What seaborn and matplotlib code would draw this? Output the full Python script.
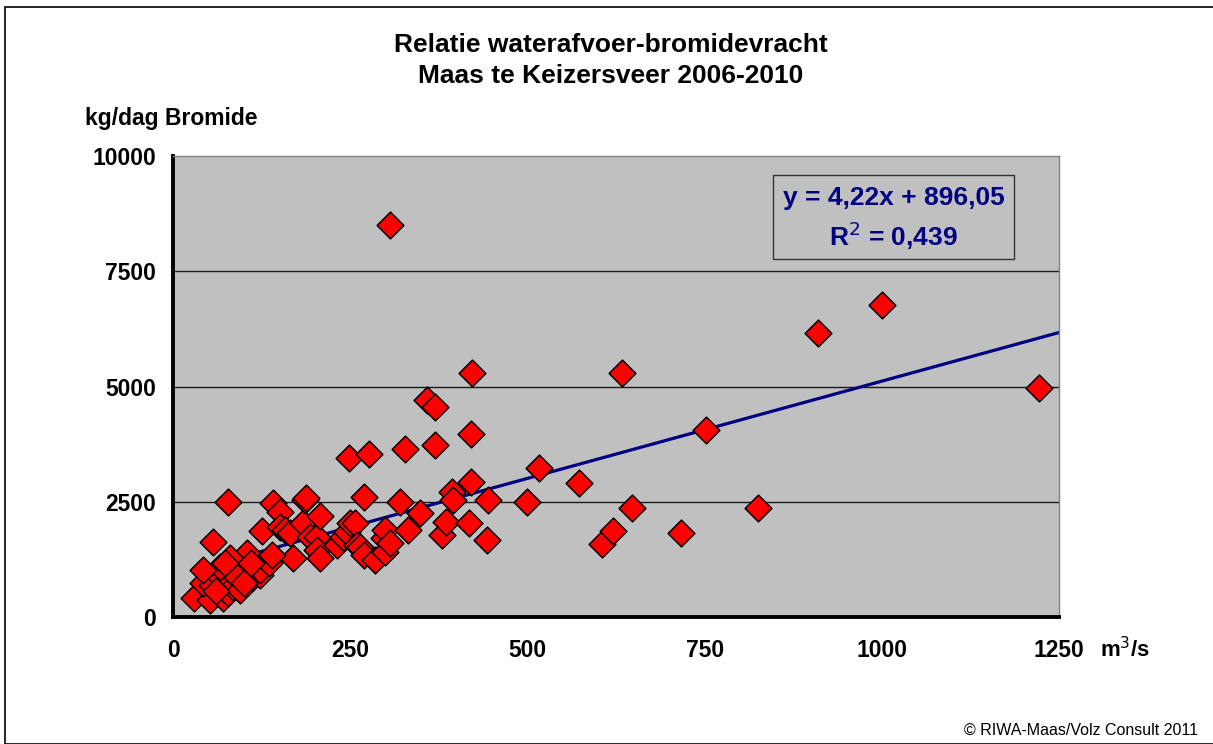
import numpy as np
import pandas as pd
import matplotlib
matplotlib.use("Agg")
import matplotlib.pyplot as plt
from matplotlib.patches import Rectangle
import seaborn as sns

# ---- data ----
afvoer = [30, 52, 43, 55, 66, 66, 71, 78, 85, 90, 95, 104, 113, 80, 73, 43, 123, 123,
          135, 56, 77, 125, 141, 151, 151, 158, 165, 170, 100, 60, 110, 140,
          184, 186, 188, 193, 203, 203, 207, 207, 231, 240, 245, 250, 257, 259, 264,
          270, 270, 285, 297, 299, 299, 306, 320, 332, 349, 379, 385, 393, 395, 417,
          420, 421, 422, 443, 445, 249, 276, 327, 358, 370, 370, 306,
          500, 516, 573, 605, 621, 634, 647, 716, 752, 825, 910, 1000, 1222]
bromide = [405, 370, 730, 695, 875, 1090, 405, 515, 660, 875, 585, 1380, 875, 1275, 1165,
           1020, 910, 1020, 1165, 1635, 2500, 1875, 2480, 2285, 1960, 1890, 1815, 1275,
           740, 560, 1180, 1350,
           2035, 2540, 2575, 1745, 1745, 1455, 2200, 1275, 1560, 1745, 1850, 2035, 2035,
           1560, 1525, 2600, 1345, 1235, 1710, 1890, 1415, 1600, 2500, 1890, 2250, 1780,
           2070, 2720, 2540, 2045, 2935, 3970, 5290, 1670, 2540, 3455, 3530, 3640, 4710,
           4565, 3730, 8500,
           2500, 3240, 2900, 1585, 1865, 5290, 2370, 1815, 4050, 2370, 6150, 6770, 4975]

slope = 4.22
intercept = 896.05
r2 = 0.439
x_ticks = [0, 250, 500, 750, 1000, 1250]
y_ticks = [0, 2500, 5000, 7500, 10000]

title_lines = ["Relatie waterafvoer-bromidevracht", "Maas te Keizersveer 2006-2010"]
y_label = "kg/dag Bromide"
x_label = "m$^3$/s"
credit = "© RIWA-Maas/Volz Consult 2011"

df = pd.DataFrame({"afvoer": afvoer, "bromide": bromide})
trend_x = np.array([min(afvoer), x_ticks[-1]])
trend = pd.DataFrame({"x": trend_x, "y": slope * trend_x + intercept})

sns.set_style("white")
plt.rcParams["font.family"] = ["Liberation Sans", "DejaVu Sans"]
plt.rcParams["text.color"] = "black"
plt.rcParams["xtick.color"] = "black"
plt.rcParams["ytick.color"] = "black"
plt.rcParams["axes.labelcolor"] = "black"

W, H = 1213, 744
fig = plt.figure(figsize=(W / 100, H / 100), dpi=100)
fig.patch.set_facecolor("white")

# outer frame
fig.add_artist(Rectangle((5 / W, 0), 1.2, 1 - 7 / H, transform=fig.transFigure,
                         fill=False, edgecolor="black", linewidth=1.2))

ax = fig.add_axes([173 / W, 1 - 617 / H, (1059 - 173) / W, (617 - 156) / H])
ax.set_facecolor("#C0C0C0")

for yv in y_ticks[1:-1]:
    ax.axhline(yv, color="#1a1a1a", linewidth=1.0, zorder=1)

sns.lineplot(data=trend, x="x", y="y", ax=ax, color="#000080", linewidth=2.3, zorder=2)
sns.scatterplot(data=df, x="afvoer", y="bromide", ax=ax, marker="D", s=185,
                color="#FF0000", edgecolor="black", linewidth=1.1, zorder=3, legend=False)

ax.set_xlim(0, 1250)
ax.set_ylim(0, 10000)
ax.set_xticks(x_ticks)
ax.set_yticks(y_ticks)
ax.set_xticklabels([str(v) for v in x_ticks], fontsize=16.5, fontweight="bold")
ax.set_yticklabels([str(v) for v in y_ticks], fontsize=16.5, fontweight="bold")
ax.tick_params(axis="both", direction="out", length=5, width=2.5, color="black",
               labelcolor="black", pad=7)
ax.tick_params(axis="x", pad=11)
ax.set_xlabel("")
ax.set_ylabel("")

for s in ["top", "right"]:
    ax.spines[s].set_color("#808080")
    ax.spines[s].set_linewidth(1.0)
for s in ["left", "bottom"]:
    ax.spines[s].set_color("black")
    ax.spines[s].set_linewidth(2.8)

# equation box (pixel geometry of the reference)
fig.add_artist(Rectangle((773 / W, 1 - 259 / H), (1014 - 773) / W, (259 - 175) / H,
                         transform=fig.transFigure, facecolor="#C0C0C0",
                         edgecolor="#333333", linewidth=1.0, zorder=5))
eq1 = f"y = {slope:.2f}x + {intercept:.2f}".replace(".", ",")
eq2 = f"R$^2$ = {r2:.3f}".replace(".", ",")
fig.text(893.5 / W, 1 - 198 / H, eq1, ha="center", va="center", fontsize=19,
         fontweight="bold", color="#000080", zorder=6)
fig.text(893.5 / W, 1 - 236 / H, eq2, ha="center", va="center", fontsize=19,
         fontweight="bold", color="#000080", zorder=6)

fig.text(611 / W, 1 - 45 / H, title_lines[0], ha="center", va="center", fontsize=19,
         fontweight="bold")
fig.text(611 / W, 1 - 76 / H, title_lines[1], ha="center", va="center", fontsize=19,
         fontweight="bold")
fig.text(85 / W, 1 - 118 / H, y_label, ha="left", va="center", fontsize=16.5,
         fontweight="bold")
fig.text(1100 / W, 1 - 650 / H, x_label, ha="left", va="center", fontsize=16,
         fontweight="bold")
fig.text(1198 / W, 1 - 730 / H, credit, ha="right", va="center", fontsize=11.5)

fig.savefig("out.png", dpi=100)
